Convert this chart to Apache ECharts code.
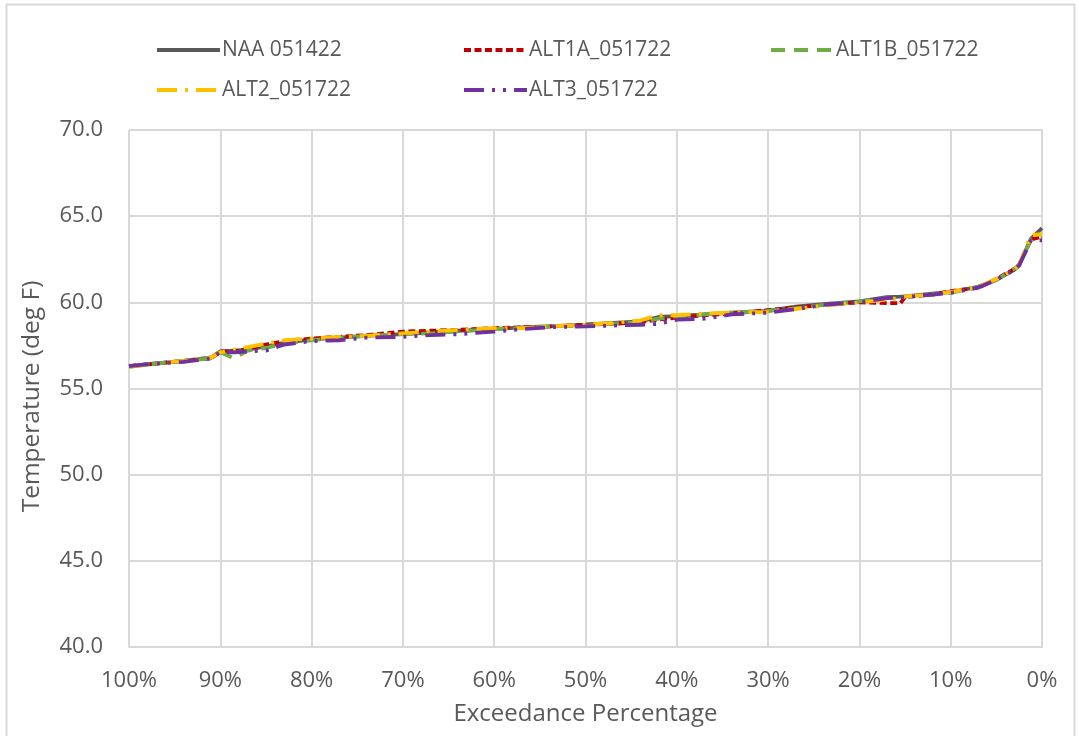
<!DOCTYPE html>
<html>
<head>
<meta charset="utf-8">
<script src="https://cdn.jsdelivr.net/npm/echarts@6/dist/echarts.min.js"></script>
<style>
    html,body{margin:0;padding:0;background:#fff;}
    #main{width:1079px;height:736px;}
</style>
</head>
<body>
<div id="main"></div>
<script>
//超越概率 (x轴, %)
var xPct = [100, 97, 94, 91, 90, 88.5, 87, 85, 83, 80, 77, 74, 70, 67, 64, 60, 57, 54, 50, 47,
    44, 42, 40, 37, 34, 30, 27, 24, 20, 17, 15.5, 15, 12, 10, 7, 5, 3, 2.5, 1.2, 0];
var seriesNames = ['NAA 051422', 'ALT1A_051722', 'ALT1B_051722', 'ALT2_051722', 'ALT3_051722'];
var naa = [56.30, 56.45, 56.60, 56.80, 57.15, 57.20, 57.25, 57.45, 57.65, 57.85, 57.95, 58.05, 58.15, 58.25, 58.35, 58.45, 58.55, 58.60, 58.70, 58.80,
    58.90, 59.15, 59.20, 59.30, 59.40, 59.50, 59.75, 59.90, 60.05, 60.30, 60.33, 60.35, 60.50, 60.60, 60.90, 61.30, 61.90, 62.15, 63.70, 64.30];
var alt1a = [56.30, 56.45, 56.60, 56.75, 57.15, 57.15, 57.30, 57.55, 57.75, 57.90, 58.00, 58.10, 58.30, 58.35, 58.40, 58.50, 58.55, 58.60, 58.70, 58.75,
    58.85, 59.00, 59.10, 59.25, 59.35, 59.55, 59.70, 59.85, 60.00, 59.95, 59.95, 60.30, 60.45, 60.65, 60.85, 61.35, 61.95, 62.20, 63.65, 63.80];
var alt1b = [56.25, 56.45, 56.60, 56.75, 57.10, 56.75, 57.20, 57.35, 57.60, 57.80, 57.95, 58.05, 58.15, 58.20, 58.30, 58.45, 58.50, 58.60, 58.65, 58.75,
    58.85, 59.05, 59.15, 59.30, 59.40, 59.50, 59.65, 59.85, 60.05, 60.25, 60.30, 60.35, 60.45, 60.55, 60.90, 61.30, 61.95, 62.20, 63.65, 63.75];
var alt2 = [56.25, 56.45, 56.60, 56.80, 57.10, 57.25, 57.40, 57.60, 57.80, 57.90, 58.00, 58.05, 58.20, 58.30, 58.40, 58.50, 58.50, 58.60, 58.70, 58.80,
    58.95, 59.25, 59.25, 59.35, 59.40, 59.45, 59.60, 59.80, 60.00, 60.15, 60.25, 60.35, 60.45, 60.60, 60.90, 61.35, 61.90, 62.20, 63.90, 63.95];
var alt3 = [56.30, 56.45, 56.55, 56.75, 57.10, 57.10, 57.15, 57.20, 57.55, 57.75, 57.80, 57.95, 58.00, 58.10, 58.15, 58.30, 58.45, 58.55, 58.60, 58.65,
    58.70, 58.75, 59.00, 59.05, 59.30, 59.40, 59.60, 59.85, 60.00, 60.25, 60.30, 60.30, 60.45, 60.55, 60.85, 61.30, 61.90, 62.15, 63.60, 63.60];

var font = '"Open Sans", Lato, sans-serif';
var txtColor = '#595959';
var gridColor = '#d9d9d9';

function pairs(vals){
    var out = [];
    for (var i = 0; i < xPct.length; i++) {
        out.push([xPct[i], vals[i]]);
    }
    return out;
}
function mkLine(name, vals, color, dash){
    return {
        name: name,
        type: 'line',
        symbol: 'none',
        smooth: false,
        data: pairs(vals),
        lineStyle: {color: color, width: 3.8, type: dash},
        itemStyle: {color: color}
    };
}

var myChart = echarts.init(document.getElementById('main'));
var option = {
    animation: false,
    backgroundColor: '#fff',
    textStyle: {fontFamily: font},
    graphic: [{
        type: 'rect',
        shape: {x: 6.5, y: 4.5, width: 1068, height: 740},
        style: {fill: 'none', stroke: gridColor, lineWidth: 2},
        silent: true
    }],
    legend: {
        left: 150,
        top: 30,
        width: 930,
        itemWidth: 63,
        itemHeight: 14,
        itemGap: 10,
        itemStyle: {opacity: 0},
        lineStyle: {width: 4},
        textStyle: {color: txtColor, fontSize: 21, fontFamily: font, width: 230, lineHeight: 30, padding: [0, 0, 0, -3]},
        data: seriesNames
    },
    grid: {left: 129, right: 37, top: 130, bottom: 89, containLabel: false},
    xAxis: {
        type: 'value',
        inverse: true,
        min: 0,
        max: 100,
        interval: 10,
        name: 'Exceedance Percentage',
        nameLocation: 'middle',
        nameGap: 55,
        nameTextStyle: {color: txtColor, fontSize: 24, fontFamily: font},
        axisLine: {show: true, lineStyle: {color: gridColor, width: 2}},
        axisTick: {show: false},
        axisLabel: {color: txtColor, fontSize: 22, fontFamily: font, margin: 23, formatter: '{value}%'},
        splitLine: {show: true, lineStyle: {color: gridColor, width: 2}}
    },
    yAxis: {
        type: 'value',
        min: 40,
        max: 70,
        interval: 5,
        name: 'Temperature (deg F)',
        nameLocation: 'middle',
        nameGap: 84,
        nameTextStyle: {color: txtColor, fontSize: 24.5, fontFamily: font, padding: [0, 16, 0, 0]},
        axisLine: {show: true, lineStyle: {color: gridColor, width: 2}},
        axisTick: {show: false},
        axisLabel: {color: txtColor, fontSize: 22, fontFamily: font, margin: 26,
            formatter: function(v){ return v.toFixed(1); }},
        splitLine: {show: true, lineStyle: {color: gridColor, width: 2}}
    },
    series: [
        mkLine(seriesNames[0], naa, '#595959', 'solid'),
        mkLine(seriesNames[1], alt1a, '#C00000', [7, 3.5]),
        mkLine(seriesNames[2], alt1b, '#70AD47', [14, 9]),
        mkLine(seriesNames[3], alt2, '#FFC000', [20, 8, 3, 8]),
        mkLine(seriesNames[4], alt3, '#7030A0', [20, 8, 3, 8, 3, 8])
    ]
};
myChart.setOption(option);
</script>
</body>
</html>
